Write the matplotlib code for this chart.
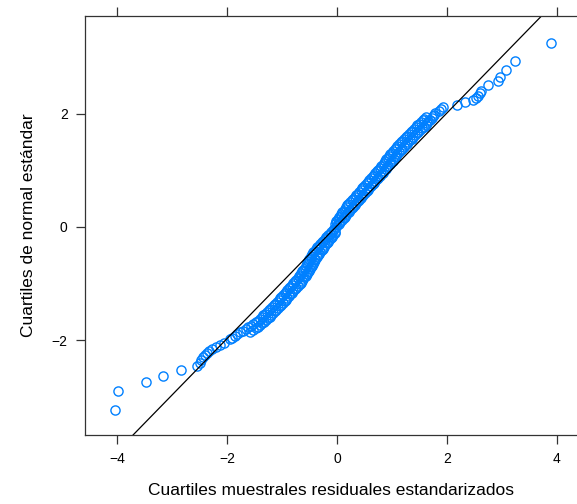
import numpy as np
import matplotlib.pyplot as plt

plt.rcParams['font.family'] = ['Liberation Sans', 'DejaVu Sans']

# Cuartiles muestrales de los residuales estandarizados (eje x)
residuales = [
    -4.04, -3.98, -3.47, -3.16, -2.84, -2.55, -2.49, -2.47, -2.44, -2.40,
    -2.36, -2.32, -2.27, -2.20, -2.12, -2.05,
    -1.95, -1.91, -1.86, -1.81, -1.76, -1.71, -1.66, -1.61, -1.56, -1.52,
    -1.48, -1.44, -1.40, -1.37, -1.34, -1.30, -1.27, -1.24, -1.21, -1.18,
    -1.15, -1.12, -1.09, -1.06, -1.03, -1.01, -0.98, -0.95, -0.93, -0.90,
    -0.87, -0.85, -0.82, -0.79, -0.76, -0.74, -0.71, -0.69, -0.67, -0.65,
    -0.63, -0.61, -0.58, -0.57, -0.55, -0.54, -0.52, -0.50, -0.48, -0.47,
    -0.45, -0.43, -0.40, -0.38, -0.36, -0.33, -0.31, -0.28, -0.25, -0.22,
    -0.19, -0.16, -0.13, -0.10, -0.07, -0.05, -0.02, 0.01, 0.03, 0.06,
    0.09, 0.12, 0.14, 0.17, 0.19, 0.22, 0.24, 0.27, 0.29, 0.32,
    0.35, 0.38, 0.40, 0.43, 0.46, 0.48, 0.51, 0.54, 0.56, 0.59,
    0.62, 0.65, 0.67, 0.70, 0.73, 0.75, 0.78, 0.81, 0.83, 0.86,
    0.89, 0.91, 0.93, 0.96, 0.98, 1.01, 1.03, 1.05, 1.08, 1.10,
    1.13, 1.16, 1.18, 1.21, 1.24, 1.27, 1.30, 1.33, 1.36, 1.39,
    1.42, 1.45, 1.48, 1.51, 1.54, 1.58, 1.61, 1.64, 1.66, 1.69,
    1.72, 1.74, 1.76, 1.79,
    1.85, 1.90, 1.93, 2.18, 2.33, 2.48, 2.52, 2.57, 2.60, 2.62,
    2.75, 2.92, 2.96, 3.07, 3.24, 3.89]

# Cuartiles de la normal estándar (eje y)
normal = [
    -3.22, -2.89, -2.73, -2.62, -2.53, -2.46, -2.40, -2.35, -2.30, -2.26,
    -2.22, -2.19, -2.16, -2.12, -2.08, -2.04,
    -1.98, -1.95, -1.92, -1.89, -1.86, -1.83, -1.80, -1.77, -1.74, -1.71,
    -1.68, -1.65, -1.62, -1.59, -1.56, -1.53, -1.50, -1.47, -1.44, -1.41,
    -1.38, -1.35, -1.32, -1.29, -1.26, -1.23, -1.20, -1.17, -1.14, -1.11,
    -1.08, -1.05, -1.02, -0.99, -0.96, -0.93, -0.90, -0.87, -0.84, -0.81,
    -0.78, -0.75, -0.72, -0.69, -0.66, -0.63, -0.60, -0.57, -0.54, -0.51,
    -0.48, -0.45, -0.42, -0.39, -0.36, -0.33, -0.30, -0.27, -0.24, -0.21,
    -0.18, -0.15, -0.12, -0.09, -0.06, -0.03, 0.00, 0.03, 0.06, 0.09,
    0.12, 0.15, 0.18, 0.21, 0.24, 0.27, 0.30, 0.33, 0.36, 0.39,
    0.42, 0.45, 0.48, 0.51, 0.54, 0.57, 0.60, 0.63, 0.66, 0.69,
    0.72, 0.75, 0.78, 0.81, 0.84, 0.87, 0.90, 0.93, 0.96, 0.99,
    1.02, 1.05, 1.08, 1.11, 1.14, 1.17, 1.20, 1.23, 1.26, 1.29,
    1.32, 1.35, 1.38, 1.41, 1.44, 1.47, 1.50, 1.53, 1.56, 1.59,
    1.62, 1.65, 1.68, 1.71, 1.74, 1.77, 1.80, 1.83, 1.86, 1.89,
    1.92, 1.95, 1.98, 2.01,
    2.05, 2.08, 2.11, 2.15, 2.21, 2.24, 2.27, 2.31, 2.36, 2.40,
    2.50, 2.58, 2.65, 2.77, 2.93, 3.25]

# Puntos superpuestos de la franja central (dan el grosor de la nube)
residuales_2 = [
    -1.58, -1.53, -1.48, -1.44, -1.40, -1.36, -1.32, -1.29, -1.26, -1.22,
    -1.19, -1.16, -1.13, -1.10, -1.07, -1.04, -1.01, -0.98, -0.95, -0.93,
    -0.90, -0.87, -0.85, -0.82, -0.79, -0.77, -0.74, -0.71, -0.68, -0.66,
    -0.63, -0.61, -0.59, -0.57, -0.55, -0.53, -0.50, -0.49, -0.47, -0.46,
    -0.44, -0.42, -0.40, -0.39, -0.37, -0.35, -0.32, -0.30, -0.28, -0.25,
    -0.23, -0.21, -0.18, -0.16, -0.14, -0.11, -0.09, -0.07, -0.04, -0.03,
    -0.04, -0.02, -0.01, 0.02, 0.04, 0.07, 0.08, 0.10, 0.12, 0.14,
    0.16, 0.19, 0.21, 0.24, 0.27, 0.30, 0.32, 0.35, 0.38, 0.40,
    0.43, 0.46, 0.48, 0.51, 0.54, 0.57, 0.59, 0.62, 0.65, 0.67,
    0.70, 0.73, 0.75, 0.78, 0.81, 0.83, 0.85, 0.88, 0.90, 0.93,
    0.95, 0.97, 1.00, 1.02, 1.05, 1.08, 1.10, 1.13, 1.16, 1.19,
    1.22, 1.25, 1.28, 1.31, 1.34, 1.37, 1.40, 1.43, 1.46, 1.50,
    1.53, 1.56, 1.58, 1.61]

normal_2 = [
    -1.85, -1.82, -1.79, -1.76, -1.73, -1.70, -1.67, -1.64, -1.61, -1.58,
    -1.55, -1.52, -1.49, -1.46, -1.43, -1.40, -1.37, -1.34, -1.31, -1.28,
    -1.25, -1.22, -1.19, -1.16, -1.13, -1.10, -1.07, -1.04, -1.01, -0.98,
    -0.95, -0.92, -0.89, -0.86, -0.83, -0.80, -0.77, -0.74, -0.71, -0.68,
    -0.65, -0.62, -0.59, -0.56, -0.53, -0.50, -0.47, -0.44, -0.41, -0.38,
    -0.35, -0.32, -0.29, -0.26, -0.23, -0.20, -0.17, -0.14, -0.11, -0.08,
    0.05, 0.08, 0.11, 0.14, 0.17, 0.20, 0.23, 0.26, 0.29, 0.32,
    0.35, 0.38, 0.41, 0.44, 0.47, 0.50, 0.53, 0.56, 0.59, 0.62,
    0.65, 0.68, 0.71, 0.74, 0.77, 0.80, 0.83, 0.86, 0.89, 0.92,
    0.95, 0.98, 1.01, 1.04, 1.07, 1.10, 1.13, 1.16, 1.19, 1.22,
    1.25, 1.28, 1.31, 1.34, 1.37, 1.40, 1.43, 1.46, 1.49, 1.52,
    1.55, 1.58, 1.61, 1.64, 1.67, 1.70, 1.73, 1.76, 1.79, 1.82,
    1.85, 1.88, 1.91, 1.94]

# Recta de referencia (qqline)
recta_intercepto = 0.02
recta_pendiente = 0.995

fig = plt.figure(figsize=(5.77, 5.04), dpi=100)
W, H = 577, 504
ax = fig.add_axes([85 / W, (H - 435) / H, (577 - 85) / W, (435 - 16) / H])

estilo = dict(linestyle='none', marker='o', markersize=6.6, markerfacecolor='none',
              markeredgecolor='#0080ff', markeredgewidth=1.0)
ax.plot(residuales, normal, **estilo)
ax.plot(residuales_2, normal_2, **estilo)
ax.axline((0, recta_intercepto), slope=recta_pendiente, color='black', linewidth=0.9)

ax.set_xlim(-4.58, 4.364)
ax.set_ylim(-3.668, 3.72)
ax.set_xticks([-4, -2, 0, 2, 4])
ax.set_yticks([-2, 0, 2])

for side in ['left', 'top', 'bottom']:
    ax.spines[side].set_linewidth(0.9)
    ax.spines[side].set_color('#333333')
ax.spines['right'].set_visible(False)

ax.tick_params(axis='x', which='both', top=True, bottom=True, labeltop=False,
               direction='out', length=6.5, width=0.9, color='#333333',
               labelsize=10, pad=6)
ax.tick_params(axis='y', which='both', left=True, right=False,
               direction='out', length=6.5, width=0.9, color='#333333',
               labelsize=10, pad=6)

ax.set_xlabel('Cuartiles muestrales residuales estandarizados', fontsize=12.5, labelpad=12)
ax.set_ylabel('Cuartiles de normal estándar', fontsize=12.5, labelpad=11)

fig.savefig('out.png', dpi=100)
